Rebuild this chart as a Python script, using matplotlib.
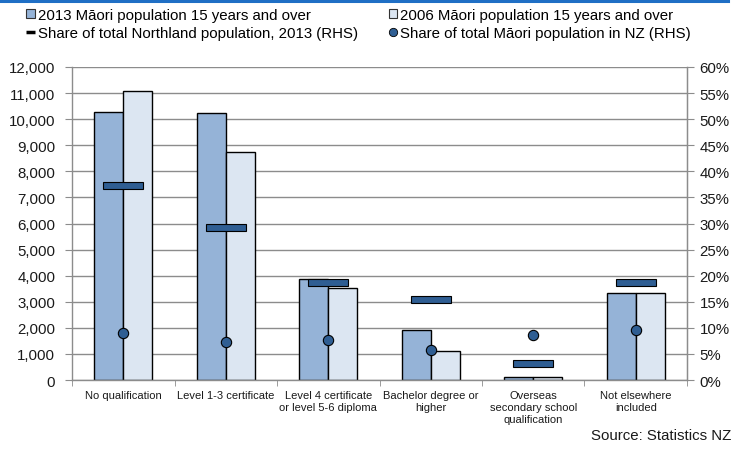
import matplotlib
matplotlib.use("Agg")
import matplotlib.pyplot as plt
from matplotlib.patches import Rectangle
from matplotlib.lines import Line2D
from matplotlib.ticker import FuncFormatter, FixedLocator
import numpy as np

plt.rcParams['font.family'] = ['Liberation Sans', 'DejaVu Sans']

categories = ["No qualification", "Level 1-3 certificate",
              "Level 4 certificate\nor level 5-6 diploma",
              "Bachelor degree or\nhigher",
              "Overseas\nsecondary school\nqualification",
              "Not elsewhere\nincluded"]
pop_2013 = [10270, 10220, 3870, 1920, 130, 3330]
pop_2006 = [11070, 8750, 3540, 1110, 120, 3330]
share_northland = [37.2, 29.2, 18.7, 15.4, 3.1, 18.7]
share_nz = [9.0, 7.3, 7.6, 5.7, 8.6, 9.5]

c2013 = "#95B3D7"
c2006 = "#DCE6F2"
cdark = "#2F5E93"
grid_c = "#8C8C8C"
txt_c = "#1a1a1a"

fig = plt.figure(figsize=(7.32, 4.52), dpi=100)
ax = fig.add_axes([0.0984, 0.157, 0.8401, 0.6926])

x = np.arange(len(categories))
bw = 0.285
ax.bar(x - bw / 2, pop_2013, bw, color=c2013, edgecolor="black", linewidth=1.0, zorder=2)
ax.bar(x + bw / 2, pop_2006, bw, color=c2006, edgecolor="black", linewidth=1.0, zorder=2)

ax.set_xlim(-0.5, len(categories) - 0.5)
ax.set_ylim(0, 12000)
ax.set_yticks(np.arange(0, 12001, 1000))
ax.yaxis.set_major_formatter(FuncFormatter(lambda v, p: f"{int(v):,}"))
ax.yaxis.grid(True, color=grid_c, linewidth=1.0, zorder=0)
ax.set_axisbelow(True)
ax.tick_params(axis="y", length=5, color=grid_c, labelsize=10.8, pad=7, labelcolor=txt_c)

ax.set_xticks(x)
ax.set_xticklabels(categories, fontsize=8, color=txt_c, linespacing=1.25)
ax.tick_params(axis="x", length=0, pad=7)
ax.xaxis.set_minor_locator(FixedLocator(np.arange(-0.5, len(categories), 1.0)))
ax.tick_params(axis="x", which="minor", length=4, color=grid_c)

ax.spines["top"].set_visible(False)
for s in ["left", "bottom", "right"]:
    ax.spines[s].set_color(grid_c)
    ax.spines[s].set_linewidth(1.0)

ax2 = ax.twinx()
ax2.set_ylim(0, 60)
ax2.set_yticks(np.arange(0, 61, 5))
ax2.yaxis.set_major_formatter(FuncFormatter(lambda v, p: f"{int(v)}%"))
ax2.tick_params(axis="y", length=5, color=grid_c, labelsize=10.8, pad=4, labelcolor=txt_c)
for s in ["top", "left", "bottom"]:
    ax2.spines[s].set_visible(False)
ax2.spines["right"].set_color(grid_c)

# Northland share shown as short horizontal bars
dash_w = 0.39
dash_h = 1.35
for xi, v in zip(x, share_northland):
    ax2.add_patch(Rectangle((xi - dash_w / 2, v - dash_h / 2), dash_w, dash_h,
                            facecolor=cdark, edgecolor="black", linewidth=0.8, zorder=3))

ax2.scatter(x, share_nz, s=55, color=cdark, edgecolor="black", linewidth=0.8, zorder=4)

handles = [
    Rectangle((0, 0), 1, 1, facecolor=c2013, edgecolor="#333333", linewidth=0.8),
    Line2D([], [], color="black", linewidth=2.5, solid_capstyle="butt"),
    Rectangle((0, 0), 1, 1, facecolor=c2006, edgecolor="#333333", linewidth=0.8),
    Line2D([], [], marker="o", linestyle="none", markersize=6,
           markerfacecolor=cdark, markeredgecolor="black", markeredgewidth=0.6),
]
labels = ["2013 Māori population 15 years and over",
          "Share of total Northland population, 2013 (RHS)",
          "2006 Māori population 15 years and over",
          "Share of total Māori population in NZ (RHS)"]
fig.legend(handles, labels, ncol=2, loc="upper left", bbox_to_anchor=(0.030, 0.99),
           frameon=False, fontsize=10.8, handlelength=0.55, handleheight=0.55,
           handletextpad=0.2, columnspacing=2.05, labelspacing=0.25,
           borderaxespad=0, borderpad=0.3)

# Accent rule along the top edge
fig.add_artist(Line2D([0, 0.995], [0.995, 0.995], color="#1F6FC5", linewidth=2.2,
                      transform=fig.transFigure))

fig.text(0.999, 0.035, "Source: Statistics NZ", ha="right", va="center",
         fontsize=10.8, color=txt_c)

fig.savefig("out.png", dpi=100)
